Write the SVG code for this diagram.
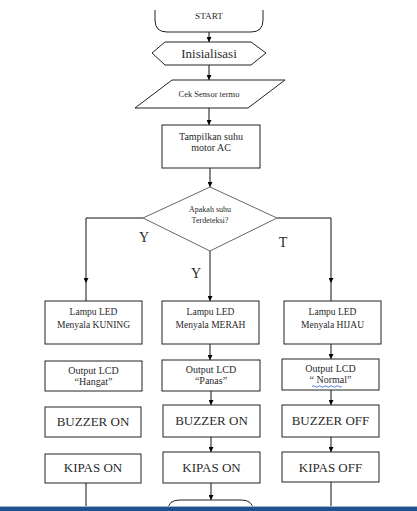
<svg xmlns="http://www.w3.org/2000/svg" width="417" height="511" viewBox="0 0 417 511">
<defs>
<marker id="ah" viewBox="0 0 10 10" refX="10" refY="5" markerWidth="5" markerHeight="5" orient="auto" markerUnits="userSpaceOnUse">
<path d="M0,0 L10,5 L0,10 Z" fill="#000"/>
</marker>
<style>
.box{fill:#fff;stroke:#222;stroke-width:1}
.dia{fill:#fff;stroke:#666;stroke-width:1}
.t{fill:#2a2a2a;text-anchor:middle;font-weight:normal}
.c{fill:none;stroke:#111;stroke-width:1}
</style>
</defs>
<rect width="417" height="511" fill="#fff"/>

<g id="connectors">
<line class="c" x1="209" y1="32" x2="209" y2="42" marker-end="url(#ah)"/>
<line class="c" x1="209" y1="65" x2="209" y2="80" marker-end="url(#ah)"/>
<line class="c" x1="209" y1="108" x2="209" y2="125" marker-end="url(#ah)"/>
<line class="c" x1="210" y1="168" x2="210" y2="187" marker-end="url(#ah)"/>
<polyline class="c" points="143,218 86,218 86,283" marker-end="url(#ah)"/>
<line class="c" x1="86" y1="283" x2="86" y2="301"/>
<line class="c" x1="210" y1="251" x2="210" y2="301" marker-end="url(#ah)"/>
<polyline class="c" points="277,218 331,218 331,283" marker-end="url(#ah)"/>
<line class="c" x1="331" y1="283" x2="331" y2="301"/>
<line class="c" x1="210" y1="344" x2="210" y2="360" marker-end="url(#ah)"/>
<line class="c" x1="331" y1="344" x2="331" y2="359" marker-end="url(#ah)"/>
<line class="c" x1="211" y1="391" x2="211" y2="405" marker-end="url(#ah)"/>
<line class="c" x1="331" y1="390" x2="331" y2="405" marker-end="url(#ah)"/>
<line class="c" x1="211" y1="437" x2="211" y2="452" marker-end="url(#ah)"/>
<line class="c" x1="331" y1="437" x2="331" y2="452" marker-end="url(#ah)"/>
<line class="c" x1="86" y1="483" x2="86" y2="511"/>
<line class="c" x1="211" y1="483" x2="211" y2="500" marker-end="url(#ah)"/>
<line class="c" x1="331" y1="482" x2="331" y2="511"/>
</g>

<g font-family="'Liberation Serif', 'Times New Roman', Times, serif">
<g id="start">
<path d="M155,10 L155,20 Q155,32 167,32 L251,32 Q263,32 263,20 L263,10" fill="#fff" stroke="#222"/>
<text class="t" x="209" y="19" font-size="9.2">START</text>
</g>

<g id="init">
<polygon class="box" points="152,53 165,42 251,42 266,53 251,65 165,65"/>
<text class="t" x="209" y="58" font-size="13">Inisialisasi</text>
</g>

<g id="sensor">
<polygon class="box" points="172,80 285,80 248,108 135,108"/>
<text class="t" x="209" y="97" font-size="8.5">Cek Sensor termo</text>
</g>

<g id="tampil">
<rect class="box" x="162" y="125" width="98" height="43"/>
<text class="t" x="211" y="140" font-size="10">Tampilkan suhu</text>
<text class="t" x="211" y="151" font-size="10">motor AC</text>
</g>

<g id="decision">
<polygon class="dia" points="210,187 277,218 210,251 143,218"/>
<text class="t" x="210" y="212" font-size="8">Apakah suhu</text>
<text class="t" x="210" y="223" font-size="8">Terdeteksi?</text>
</g>

<g id="labels">
<text class="t" x="144" y="242" font-size="14">Y</text>
<text class="t" x="196" y="278" font-size="14">Y</text>
<text class="t" x="283" y="247" font-size="14">T</text>
</g>

<g id="led-kuning">
<rect class="box" x="45" y="301" width="97" height="43"/>
<text class="t" x="93.5" y="315" font-size="9.5">Lampu LED</text>
<text class="t" x="93.5" y="328" font-size="9.5">Menyala KUNING</text>
</g>
<g id="led-merah">
<rect class="box" x="162" y="301" width="97" height="43"/>
<text class="t" x="210.5" y="315" font-size="9.5">Lampu LED</text>
<text class="t" x="210.5" y="328" font-size="9.5">Menyala MERAH</text>
</g>
<g id="led-hijau">
<rect class="box" x="284" y="301" width="97" height="43"/>
<text class="t" x="332.5" y="315" font-size="9.5">Lampu LED</text>
<text class="t" x="332.5" y="328" font-size="9.5">Menyala HIJAU</text>
</g>

<g id="lcd-hangat">
<rect class="box" x="45" y="361" width="97" height="30"/>
<text class="t" x="93.5" y="374" font-size="10">Output LCD</text>
<text class="t" x="93.5" y="385" font-size="10">“Hangat”</text>
</g>
<g id="lcd-panas">
<rect class="box" x="162" y="360" width="98" height="31"/>
<text class="t" x="211" y="373" font-size="10">Output LCD</text>
<text class="t" x="211" y="384" font-size="10">“Panas”</text>
</g>
<g id="lcd-normal">
<rect class="box" x="282" y="359" width="97" height="31"/>
<text class="t" x="330.5" y="372" font-size="10">Output LCD</text>
<text class="t" x="330.5" y="383" font-size="10">“ Normal”</text>
<path d="M312,386.5 q1.5,-1.5 3,0 t3,0 t3,0 t3,0 t3,0 t3,0 t3,0 t3,0 t3,0 t3,0" fill="none" stroke="#2a4fd0" stroke-width="0.8"/>
</g>

<g id="buzzer-1">
<rect class="box" x="45" y="407" width="96" height="30"/>
<text class="t" x="93" y="426" font-size="13">BUZZER ON</text>
</g>
<g id="buzzer-2">
<rect class="box" x="163" y="405" width="97" height="32"/>
<text class="t" x="211.5" y="425" font-size="13">BUZZER ON</text>
</g>
<g id="buzzer-3">
<rect class="box" x="282" y="405" width="97" height="32"/>
<text class="t" x="330.5" y="425" font-size="13">BUZZER OFF</text>
</g>

<g id="kipas-1">
<rect class="box" x="45" y="454" width="96" height="29"/>
<text class="t" x="93" y="472" font-size="13">KIPAS ON</text>
</g>
<g id="kipas-2">
<rect class="box" x="163" y="452" width="97" height="31"/>
<text class="t" x="211.5" y="472" font-size="13">KIPAS ON</text>
</g>
<g id="kipas-3">
<rect class="box" x="282" y="452" width="97" height="30"/>
<text class="t" x="330.5" y="472" font-size="13">KIPAS OFF</text>
</g>
</g>

<g id="end">
<path d="M168,511 L168,510 Q168,500 180,500 L241,500 Q253,500 253,510 L253,511" fill="#fff" stroke="#222"/>
</g>

<rect x="0" y="506" width="417" height="1" fill="#9fb4d6"/>
<rect x="0" y="507" width="417" height="4" fill="#21508f"/>
</svg>
